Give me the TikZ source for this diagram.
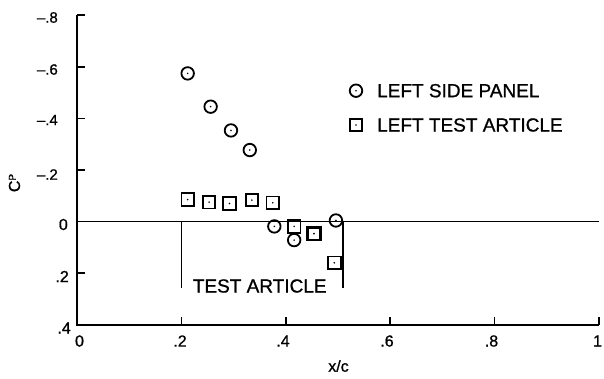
\documentclass[tikz,border=0pt]{standalone}
\usepackage{fontspec}
\setmainfont{Liberation Sans}[FakeBold=0.9]
\begin{document}
\begin{tikzpicture}[x=1pt,y=-1pt,
  axisline/.style={line width=1.8pt},
  tickline/.style={line width=1.6pt},
  big/.style={font=\fontsize{19}{22}\selectfont, inner sep=0pt},
  poslbl/.style={font=\fontsize{16}{18}\selectfont, inner sep=0pt},
  neglbl/.style={font=\fontsize{15}{17}\selectfont, inner sep=0pt},
  circmark/.style={circle, draw, line width=1.8pt, minimum size=12.5pt, inner sep=0pt,
    path picture={\fill (path picture bounding box.center) circle (0.9pt);}},
  sqmark/.style={rectangle, draw, line width=1.8pt, minimum size=12.5pt, inner sep=0pt,
    path picture={\fill (path picture bounding box.center) circle (0.9pt);}}
]
\useasboundingbox (0,0) rectangle (604,378);
\begin{scope}[shift={(77,221.5)}, x=522pt, y=-258pt]
  % axes
  \draw[axisline] (0,-0.8) -- (0,0.4) -- (1,0.4);
  \draw[tickline] (0,-0.8) -- ++(8pt,0pt);
  \foreach \v in {-0.6,-0.4,-0.2,0.2} \draw[tickline] (0,\v) -- ++(8pt,0pt);
  \foreach \u in {0.2,0.4,0.6,0.8,1} \draw[tickline] (\u,0.4) -- ++(0pt,8pt);
  % zero line
  \draw[tickline] (0,0) -- (1,0);
  % test article bracket
  \draw[tickline] (0.2,0) -- (0.2,0.258);
  \draw[tickline] (0.51,0) -- (0.51,0.258);
  \node[big] (ta) at (0.35,0.25) {TEST ARTICLE};
  % circles (left side panel)
  \node[circmark] (c1) at (0.212,-0.574) {};
  \node[circmark] (c2) at (0.256,-0.445) {};
  \node[circmark] (c3) at (0.295,-0.353) {};
  \node[circmark] (c4) at (0.331,-0.277) {};
  \node[circmark] (c5) at (0.378,0.019) {};
  \node[circmark] (c6) at (0.416,0.072) {};
  \node[circmark] (c7) at (0.496,-0.004) {};
  % squares (left test article)
  \node[sqmark] (s1) at (0.212,-0.085) {};
  \node[sqmark] (s2) at (0.253,-0.075) {};
  \node[sqmark] (s3) at (0.292,-0.070) {};
  \node[sqmark] (s4) at (0.335,-0.083) {};
  \node[sqmark] (s5) at (0.375,-0.073) {};
  \node[sqmark] (s6) at (0.416,0.019) {};
  \node[sqmark, line width=2.6pt] (s7) at (0.454,0.047) {};
  \node[sqmark] (s8) at (0.493,0.160) {};
\end{scope}
% y tick labels
\node[neglbl, anchor=east] (ym8) at (58,17.5) {–.8};
\node[neglbl, anchor=east] (ym6) at (58,69.5) {–.6};
\node[neglbl, anchor=east] (ym4) at (58,120) {–.4};
\node[neglbl, anchor=east] (ym2) at (58,174.5) {–.2};
\node[poslbl, anchor=east] (y0) at (68,224.5) {0};
\node[poslbl, anchor=east] (yp2) at (69,276.5) {.2};
\node[poslbl, anchor=east] (yp4) at (71,328) {.4};
% x tick labels
\node[poslbl] (x0) at (79.5,341) {0};
\node[poslbl] (x2) at (180,341) {.2};
\node[poslbl] (x4) at (283,341) {.4};
\node[poslbl] (x6) at (387,341) {.6};
\node[poslbl] (x8) at (491.5,341) {.8};
\node[poslbl] (x10) at (597.5,341) {1};
% axis titles
\node[poslbl] (xt) at (338.5,366) {x/c};
\node[rotate=90, inner sep=0pt, anchor=center] (yt) at (14.5,183)
  {\fontsize{16}{18}\selectfont C\raisebox{0.5ex}{\fontsize{10}{11}\selectfont P}};
% legend
\node[circmark] (lc) at (356,90.7) {};
\node[big, anchor=west] (lct) at (377,90.7) {LEFT SIDE PANEL};
\node[sqmark] (ls) at (356,125) {};
\node[big, anchor=west] (lst) at (377,125) {LEFT TEST ARTICLE};
\end{tikzpicture}
\end{document}
